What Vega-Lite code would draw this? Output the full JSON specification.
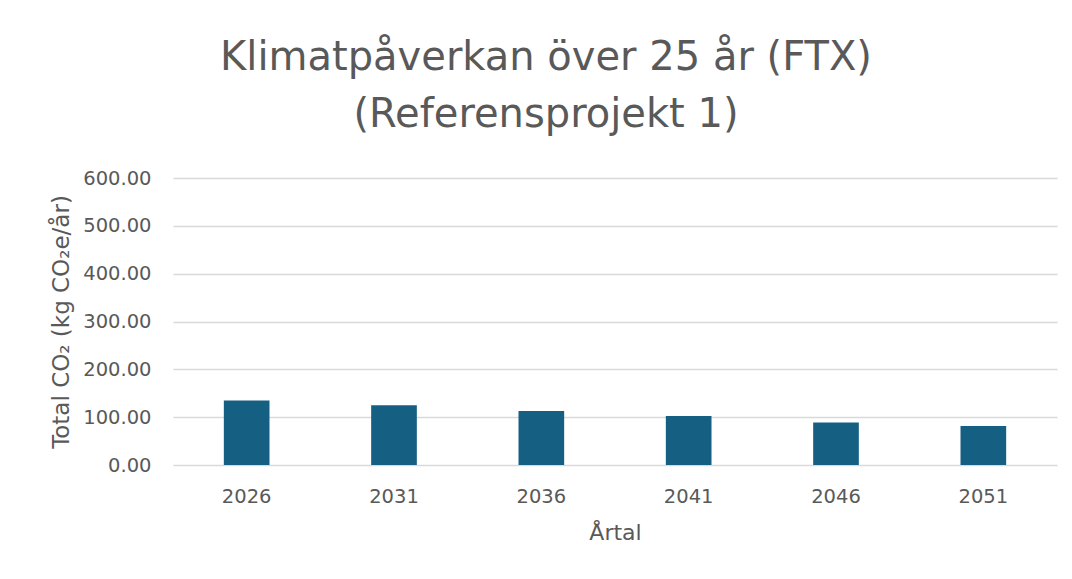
{
  "$schema": "https://vega.github.io/schema/vega-lite/v6.json",
  "width": 884,
  "height": 287,
  "autosize": {"type": "none"},
  "padding": {"left": 173, "top": 178, "right": 15, "bottom": 114},
  "background": "white",
  "title": {
    "text": ["Klimatpåverkan över 25 år (FTX)", "(Referensprojekt 1)"],
    "font": "DejaVu Sans",
    "fontSize": 40,
    "fontWeight": "normal",
    "color": "#595959",
    "lineHeight": 57,
    "anchor": "middle",
    "frame": "group",
    "dx": -69,
    "offset": 33
  },
  "data": {
    "values": [
      {"year": "2026", "co2": 135},
      {"year": "2031", "co2": 125},
      {"year": "2036", "co2": 113},
      {"year": "2041", "co2": 102.5},
      {"year": "2046", "co2": 89},
      {"year": "2051", "co2": 81.5}
    ]
  },
  "mark": {"type": "bar", "color": "#156082"},
  "encoding": {
    "x": {
      "field": "year",
      "type": "nominal",
      "title": "Årtal",
      "scale": {"paddingInner": 0.69, "paddingOuter": 0.345},
      "axis": {
        "labelAngle": 0,
        "ticks": false,
        "domain": false,
        "labelPadding": 22,
        "titlePadding": 17,
        "labelFontSize": 19.5,
        "titleFontSize": 22,
        "titleFontWeight": "normal",
        "labelColor": "#595959",
        "titleColor": "#595959",
        "labelFont": "DejaVu Sans",
        "titleFont": "DejaVu Sans"
      }
    },
    "y": {
      "field": "co2",
      "type": "quantitative",
      "title": "Total CO₂ (kg CO₂e/år)",
      "scale": {"domain": [0, 600]},
      "axis": {
        "values": [0, 100, 200, 300, 400, 500, 600],
        "format": ".2f",
        "ticks": false,
        "domain": false,
        "grid": true,
        "gridColor": "#D9D9D9",
        "gridWidth": 1.5,
        "labelPadding": 22,
        "titlePadding": 9,
        "labelFontSize": 19.5,
        "titleFontSize": 23,
        "titleFontWeight": "normal",
        "labelColor": "#595959",
        "titleColor": "#595959",
        "labelFont": "DejaVu Sans",
        "titleFont": "DejaVu Sans"
      }
    }
  },
  "config": {"view": {"stroke": null}}
}
